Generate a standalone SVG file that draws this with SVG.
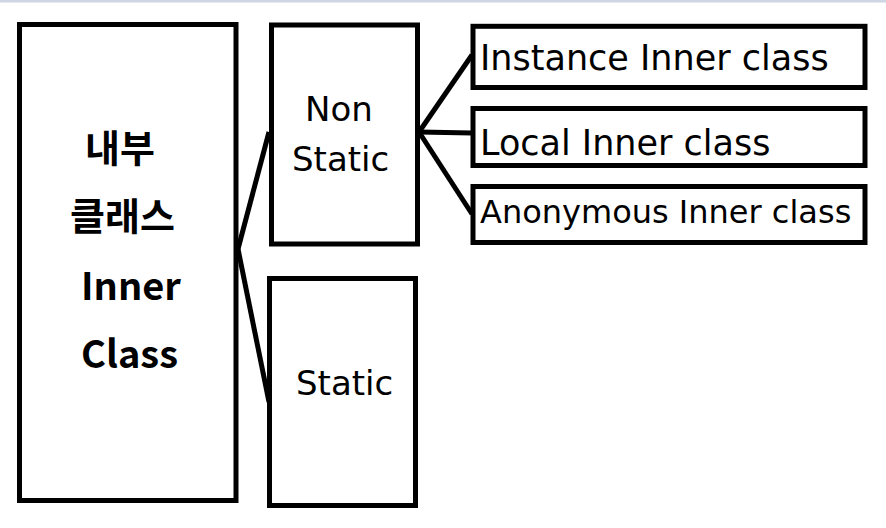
<svg xmlns="http://www.w3.org/2000/svg" width="886" height="528" viewBox="0 0 886 528">
<style>
.box{fill:#fff;stroke:#000;stroke-width:5}
.conn{stroke:#000;stroke-width:5;fill:none;stroke-linecap:butt}
.kb{font-family:"Noto Sans CJK KR","Noto Sans",sans-serif;font-weight:bold;font-size:38px;fill:#000}
.lt{font-family:"DejaVu Sans","Noto Sans",sans-serif;fill:#000}
</style>
<rect x="0" y="0" width="886" height="528" fill="#fff"/>
<rect x="0" y="0" width="886" height="2.5" fill="#cdd6e2"/>
<g id="connectors">
<line class="conn" x1="238" y1="249" x2="269" y2="132"/>
<line class="conn" x1="238" y1="249" x2="269" y2="402"/>
<line class="conn" x1="419" y1="132" x2="472" y2="55"/>
<line class="conn" x1="419" y1="132" x2="472" y2="133"/>
<line class="conn" x1="419" y1="132" x2="472" y2="214"/>
</g>
<g id="inner-class">
<rect class="box" x="19.5" y="24.5" width="216.5" height="476"/>
<text class="kb" x="85" y="162">내부</text>
<text class="kb" x="70" y="230">클래스</text>
<text class="kb" x="81" y="300">Inner</text>
<text class="kb" x="81" y="368">Class</text>
</g>
<g id="non-static">
<rect class="box" x="271.5" y="25" width="146" height="219"/>
<text class="lt" x="305" y="121" font-size="34">Non</text>
<text class="lt" x="292" y="171" font-size="34">Static</text>
</g>
<g id="static">
<rect class="box" x="269.5" y="278.5" width="146" height="227"/>
<text class="lt" x="296" y="395" font-size="34">Static</text>
</g>
<g id="instance">
<rect class="box" x="473" y="26.3" width="392" height="61.2"/>
<text class="lt" x="480" y="70" font-size="35">Instance Inner class</text>
</g>
<g id="local">
<rect class="box" x="473" y="108.5" width="392" height="57"/>
<text class="lt" x="480" y="155" font-size="35">Local Inner class</text>
</g>
<g id="anonymous">
<rect class="box" x="473" y="186.5" width="392" height="56"/>
<text class="lt" x="480" y="223" font-size="32">Anonymous Inner class</text>
</g>
</svg>
